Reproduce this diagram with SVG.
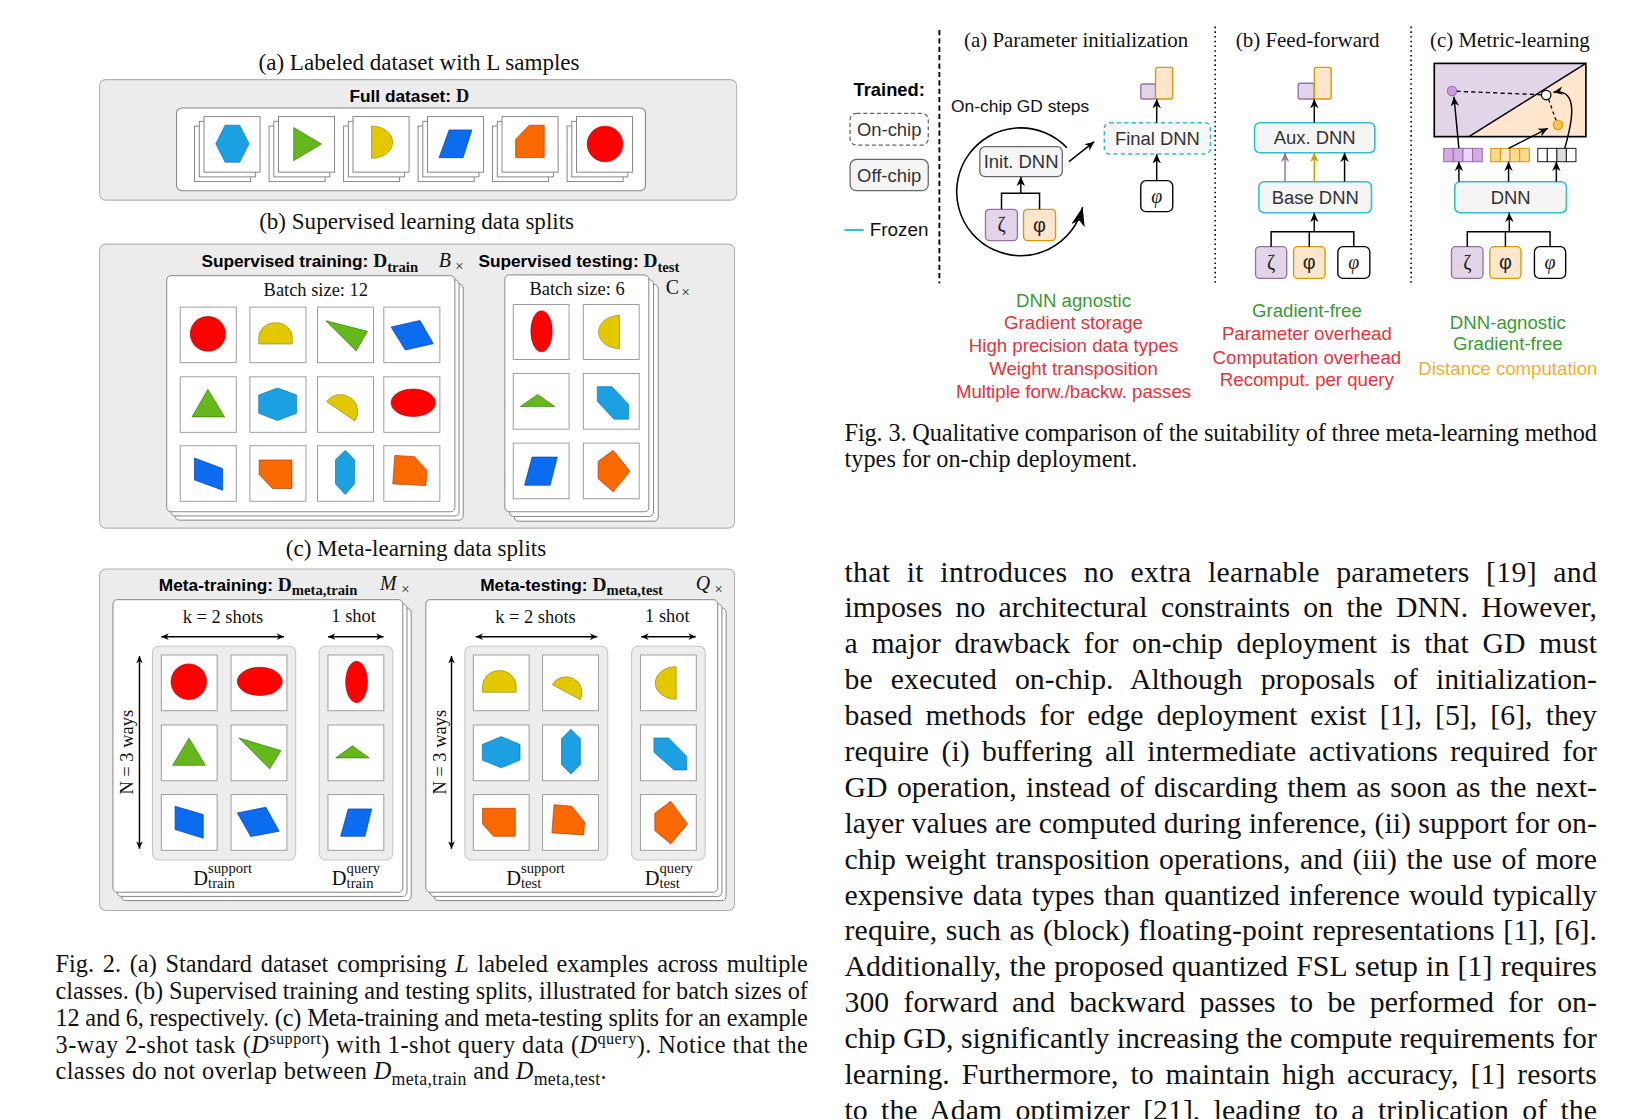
<svg xmlns="http://www.w3.org/2000/svg" width="1643" height="1119" viewBox="0 0 1643 1119">
<style>
.tt{font-family:"Liberation Serif","Times New Roman",serif;fill:#111}
.ss{font-family:"Liberation Sans",Arial,sans-serif}
.gb{fill:#ececec;stroke:#b3b3b3;stroke-width:1}
.wb{fill:#fff;stroke:#888;stroke-width:1}
.cd{fill:#fff;stroke:#808080;stroke-width:.9}
.cl{fill:#fff;stroke:#9a9a9a;stroke-width:.9}
.ib{fill:#ededed;stroke:#c6c6c6;stroke-width:1}
.r{fill:#ff0000;stroke:#a80000;stroke-width:.6}
.y{fill:#e3c800;stroke:#9a8200;stroke-width:.6}
.g{fill:#64b81c;stroke:#2d7600;stroke-width:.6}
.b{fill:#0a6df0;stroke:#0030b0;stroke-width:.6}
.c{fill:#1ba1e2;stroke:#006eaf;stroke-width:.6}
.o{fill:#fa6800;stroke:#b53000;stroke-width:.6}
.hd{font-size:16.5px;font-weight:bold}
.t22{font-size:22px}
.t176{font-size:17.6px}
.cap{font-size:23.2px}
.bd{font-size:28.4px}
.ln{fill:none;stroke:#000;stroke-width:1.4}
.gray{fill:#f5f5f5;stroke:#666;stroke-width:1.2}
.teal{fill:#f5f5f5;stroke:#2fbfc8;stroke-width:1.5}
.pur{fill:#e1d5e7;stroke:#9673a6;stroke-width:1.3}
.orn{fill:#ffe6cc;stroke:#d79b00;stroke-width:1.3}
.blk{fill:#fff;stroke:#000;stroke-width:1.3}
.lbl{font-size:17.6px;fill:#333;text-anchor:middle}
.gr{font-size:19px;fill:#222;text-anchor:middle}
.li{font-size:17.8px;text-anchor:middle}
.grn{fill:#3a9a35}.red{fill:#e5333a}.amb{fill:#f0b030}
</style>
<defs>
<marker id="a" viewBox="0 0 10 10" refX="10" refY="5" markerWidth="9" markerHeight="9" markerUnits="userSpaceOnUse" orient="auto"><path d="M0,0.5 L10,5 L0,9.5 L3,5 z" fill="#000"/></marker>
<marker id="ap" viewBox="0 0 10 10" refX="10" refY="5" markerWidth="9" markerHeight="9" markerUnits="userSpaceOnUse" orient="auto"><path d="M0,0.5 L10,5 L0,9.5 L3,5 z" fill="#9673a6"/></marker>
<marker id="ao" viewBox="0 0 10 10" refX="10" refY="5" markerWidth="9" markerHeight="9" markerUnits="userSpaceOnUse" orient="auto"><path d="M0,0.5 L10,5 L0,9.5 L3,5 z" fill="#d79b00"/></marker>
<marker id="d" viewBox="0 0 10 10" refX="10" refY="5" markerWidth="7" markerHeight="7" markerUnits="userSpaceOnUse" orient="auto-start-reverse"><path d="M0,0.5 L10,5 L0,9.5 L3,5 z" fill="#000"/></marker>
<marker id="big" viewBox="0 0 18 13" refX="18" refY="6.5" markerWidth="18" markerHeight="13" markerUnits="userSpaceOnUse" orient="auto"><path d="M0,0 L18,6.5 L0,13 L5,6.5 z" fill="#000"/></marker>
</defs>
<rect width="1643" height="1119" fill="#fff"/>
<g transform="scale(1.04783)">

<!-- ================= FIG 2 (a) ================= -->
<g id="fig2a">
<text class="tt t22" x="399.9" y="66.5" text-anchor="middle">(a) Labeled dataset with L samples</text>
<rect class="gb" x="95" y="76" width="608" height="115" rx="6"/>
<text class="ss hd" x="390.6" y="97.5" text-anchor="middle">Full dataset: <tspan class="tt" font-size="17.5">D</tspan></text>
<rect class="wb" x="168.5" y="103" width="447.5" height="79" rx="5"/>
<g id="a-card1"><rect class="cd" x="185.7" y="120.3" width="53.5" height="53"/><rect class="cd" x="190.2" y="115.8" width="53.5" height="53"/><rect class="cd" x="194.7" y="111.3" width="53.5" height="53"/>
<polygon class="c" points="205.9,137.2 214.8,119.5 228.8,119.5 237.7,137.2 228.8,154.8 214.8,154.8"/></g>
<g id="a-card2"><rect class="cd" x="256.8" y="120.3" width="53.5" height="53"/><rect class="cd" x="261.3" y="115.8" width="53.5" height="53"/><rect class="cd" x="265.8" y="111.3" width="53.5" height="53"/>
<polygon class="g" points="280.3,121.7 306.8,137.5 280.3,153.3"/></g>
<g id="a-card3"><rect class="cd" x="327.9" y="120.3" width="53.5" height="53"/><rect class="cd" x="332.4" y="115.8" width="53.5" height="53"/><rect class="cd" x="336.9" y="111.3" width="53.5" height="53"/>
<path class="y" d="M354.6,120.2 A20.1 15.45 0 0 1 354.6,151.1 Z"/></g>
<g id="a-card4"><rect class="cd" x="399" y="120.3" width="53.5" height="53"/><rect class="cd" x="403.5" y="115.8" width="53.5" height="53"/><rect class="cd" x="408" y="111.3" width="53.5" height="53"/>
<polygon class="b" points="428.6,124 450.3,124 441.9,150.5 419,150.5"/></g>
<g id="a-card5"><rect class="cd" x="470.1" y="120.3" width="53.5" height="53"/><rect class="cd" x="474.6" y="115.8" width="53.5" height="53"/><rect class="cd" x="479.1" y="111.3" width="53.5" height="53"/>
<polygon class="o" points="505,119.5 519.4,119.5 519.4,150.4 492.1,150.4 492.1,132.8"/></g>
<g id="a-card6"><rect class="cd" x="541.2" y="120.3" width="53.5" height="53"/><rect class="cd" x="545.7" y="115.8" width="53.5" height="53"/><rect class="cd" x="550.2" y="111.3" width="53.5" height="53"/>
<circle class="r" cx="577.4" cy="137.4" r="17"/></g>
</g>

<!-- ================= FIG 2 (b) ================= -->
<g id="fig2b">
<text class="tt t22" x="397.6" y="218.8" text-anchor="middle">(b) Supervised learning data splits</text>
<rect class="gb" x="95" y="233" width="606" height="271" rx="6"/>
<text class="ss hd" x="295.6" y="255.2" text-anchor="middle">Supervised training: <tspan class="tt" font-size="18.5">D</tspan><tspan class="tt" font-size="14" dy="4">train</tspan></text>
<text class="tt" x="418.8" y="255.2" font-size="19" font-style="italic">B</text><text class="tt" x="434.5" y="258.5" font-size="14">×</text>
<text class="ss hd" x="552.5" y="255.2" text-anchor="middle">Supervised testing: <tspan class="tt" font-size="18.5">D</tspan><tspan class="tt" font-size="14" dy="4">test</tspan></text>
<text class="tt" x="635.3" y="280.5" font-size="19">C</text><text class="tt" x="650.5" y="283.5" font-size="14">×</text>
<g id="b-train">
<rect class="cd" x="167.1" y="271.1" width="275" height="225.3" rx="4"/>
<rect class="cd" x="163.1" y="267.1" width="275" height="225.3" rx="4"/>
<rect class="cd" x="159.1" y="263.1" width="275" height="225.3" rx="4"/>
<text class="tt t176" x="301.4" y="282.7" text-anchor="middle">Batch size: 12</text>
<rect class="cl" x="172" y="293.1" width="53.5" height="53"/><rect class="cl" x="238.5" y="293.1" width="53.5" height="53"/><rect class="cl" x="303" y="293.1" width="53.5" height="53"/><rect class="cl" x="366.3" y="293.1" width="53.5" height="53"/>
<rect class="cl" x="172" y="359.6" width="53.5" height="53"/><rect class="cl" x="238.5" y="359.6" width="53.5" height="53"/><rect class="cl" x="303" y="359.6" width="53.5" height="53"/><rect class="cl" x="366.3" y="359.6" width="53.5" height="53"/>
<rect class="cl" x="172" y="425.4" width="53.5" height="53"/><rect class="cl" x="238.5" y="425.4" width="53.5" height="53"/><rect class="cl" x="303" y="425.4" width="53.5" height="53"/><rect class="cl" x="366.3" y="425.4" width="53.5" height="53"/>
<ellipse class="r" cx="198.4" cy="318.6" rx="16.8" ry="16.6"/>
<path class="y" d="M246.9,328.3 L246.9,322 A16.05 14 0 0 1 279,322 L279,328.3 Z"/>
<polygon class="g" points="311,306.1 350.7,316.2 339.9,334.9"/>
<polygon class="b" points="373.2,312.1 400.8,305.8 413.6,328 386.8,334"/>
<polygon class="g" points="198.4,371.6 214.4,397.9 183.2,397.9"/>
<polygon class="c" points="246.9,377 264.9,370.3 283,377 283,394.4 264.9,401.4 246.9,394.4"/>
<path class="y" d="M311.8,383.3 A16.3 16.3 0 0 1 338.7,401.7 Z"/>
<ellipse class="r" cx="394.4" cy="384.4" rx="21.2" ry="13.1"/>
<polygon class="b" points="185.6,437.1 212.4,447.2 212.4,467.8 185.6,458"/>
<polygon class="o" points="247.3,439 278.6,439 278.6,466.2 260.1,466.2 247.3,452.9"/>
<polygon class="c" points="329.5,429.8 338.3,438.7 338.3,461.8 329.5,471.9 320.2,461.8 320.2,438.7"/>
<polygon class="o" points="376.8,434.6 395.6,435.8 407.6,449.1 406.4,463.4 374.8,461.8"/>
</g>
<g id="b-test">
<rect class="cd" x="490.8" y="271.4" width="137.4" height="226" rx="4"/>
<rect class="cd" x="486.3" y="266.9" width="137.4" height="226" rx="4"/>
<rect class="cd" x="481.8" y="262.4" width="137.4" height="226" rx="4"/>
<text class="tt t176" x="550.7" y="281.4" text-anchor="middle">Batch size: 6</text>
<rect class="cl" x="489.8" y="290.6" width="53.3" height="52.5"/><rect class="cl" x="556.7" y="290.6" width="53.3" height="52.5"/>
<rect class="cl" x="489.8" y="356.4" width="53.3" height="53.2"/><rect class="cl" x="556.7" y="356.4" width="53.3" height="53.2"/>
<rect class="cl" x="489.8" y="422.9" width="53.3" height="53.1"/><rect class="cl" x="556.7" y="422.9" width="53.3" height="53.1"/>
<ellipse class="r" cx="516.8" cy="316.2" rx="10.2" ry="19.6"/>
<path class="y" d="M591.2,301 A20 15.85 0 0 0 591.2,332.7 Z"/>
<polygon class="g" points="496.6,388 513,376.4 529.5,388"/>
<polygon class="c" points="570,369 584,369 600,386 600,400 586,400 570,383"/>
<polygon class="b" points="507.8,436.2 531.9,436.2 525,463.1 500.6,463.1"/>
<polygon class="o" points="585.2,429.8 601.2,449.8 585.2,469.4 570.8,456.8 570.8,440.3"/>
</g>
</g>

<!-- ================= FIG 2 (c) ================= -->
<g id="fig2c">
<text class="tt t22" x="397" y="530.5" text-anchor="middle">(c) Meta-learning data splits</text>
<rect class="gb" x="95" y="543" width="606" height="326" rx="6"/>
<text class="ss hd" x="246.3" y="563.7" text-anchor="middle">Meta-training: <tspan class="tt" font-size="18.5">D</tspan><tspan class="tt" font-size="14" dy="4">meta,train</tspan></text>
<text class="tt" x="362.7" y="563" font-size="19" font-style="italic">M</text><text class="tt" x="383" y="566.5" font-size="14">×</text>
<text class="ss hd" x="545.5" y="563.7" text-anchor="middle">Meta-testing: <tspan class="tt" font-size="18.5">D</tspan><tspan class="tt" font-size="14" dy="4">meta,test</tspan></text>
<text class="tt" x="664.1" y="563" font-size="19" font-style="italic">Q</text><text class="tt" x="682" y="566.5" font-size="14">×</text>

<g id="c-train">
<rect class="cd" x="115.8" y="580.3" width="276.6" height="279.2" rx="4"/>
<rect class="cd" x="111.8" y="576.3" width="276.6" height="279.2" rx="4"/>
<rect class="cd" x="107.8" y="572.3" width="276.6" height="279.2" rx="4"/>
<text class="tt t176" x="212.8" y="594.8" text-anchor="middle">k = 2 shots</text>
<text class="tt t176" x="337.5" y="594" text-anchor="middle">1 shot</text>
<line class="ln" x1="154" y1="607.6" x2="271" y2="607.6" marker-start="url(#d)" marker-end="url(#d)"/>
<line class="ln" x1="313" y1="607.6" x2="366" y2="607.6" marker-start="url(#d)" marker-end="url(#d)"/>
<line class="ln" x1="133.1" y1="626" x2="133.1" y2="810" marker-start="url(#d)" marker-end="url(#d)"/>
<text class="tt t176" transform="translate(127,717.9) rotate(-90)" text-anchor="middle">N = 3 ways</text>
<rect class="ib" x="145.5" y="616.8" width="136.7" height="203.9" rx="6"/>
<rect class="ib" x="304.6" y="616.8" width="70.2" height="203.9" rx="6"/>
<rect class="cl" x="153.9" y="625.1" width="53.3" height="53.2"/><rect class="cl" x="220.5" y="625.1" width="53.3" height="53.2"/><rect class="cl" x="313" y="625.1" width="53.3" height="53.2"/>
<rect class="cl" x="153.9" y="691.9" width="53.3" height="53.2"/><rect class="cl" x="220.5" y="691.9" width="53.3" height="53.2"/><rect class="cl" x="313" y="691.9" width="53.3" height="53.2"/>
<rect class="cl" x="153.9" y="758.3" width="53.3" height="53.2"/><rect class="cl" x="220.5" y="758.3" width="53.3" height="53.2"/><rect class="cl" x="313" y="758.3" width="53.3" height="53.2"/>
<circle class="r" cx="180.2" cy="650.6" r="17"/>
<ellipse class="r" cx="247.9" cy="650.3" rx="21.4" ry="13.5"/>
<ellipse class="r" cx="340.3" cy="650.8" rx="10.4" ry="19.7"/>
<polygon class="g" points="180.4,704.3 196,730.4 164.7,730.4"/>
<polygon class="g" points="228.1,704.3 268.1,716.3 257.3,733.8"/>
<polygon class="g" points="320.3,723.3 336.3,711.6 352.3,723.3"/>
<polygon class="b" points="167.1,769.5 194,777.4 194,800 167.1,791.7"/>
<polygon class="b" points="226.5,775.8 253.7,770.4 266.5,793.3 239.3,798.4"/>
<polygon class="b" points="332.3,772 354.7,772 348.3,798.1 325.1,798.1"/>
<text class="tt" font-size="19.5" x="184.5" y="845">D<tspan font-size="14" dy="-12">support</tspan><tspan font-size="14" x="198.6" dy="14">train</tspan></text>
<text class="tt" font-size="19.5" x="316.7" y="845">D<tspan font-size="14" dy="-12">query</tspan><tspan font-size="14" x="330.8" dy="14">train</tspan></text>
</g>

<g id="c-test">
<rect class="cd" x="414.4" y="580.3" width="278.6" height="279.2" rx="4"/>
<rect class="cd" x="410.4" y="576.3" width="278.6" height="279.2" rx="4"/>
<rect class="cd" x="406.4" y="572.3" width="278.6" height="279.2" rx="4"/>
<text class="tt t176" x="511" y="594.8" text-anchor="middle">k = 2 shots</text>
<text class="tt t176" x="636.9" y="594" text-anchor="middle">1 shot</text>
<line class="ln" x1="454" y1="607.6" x2="570" y2="607.6" marker-start="url(#d)" marker-end="url(#d)"/>
<line class="ln" x1="612" y1="607.6" x2="664" y2="607.6" marker-start="url(#d)" marker-end="url(#d)"/>
<line class="ln" x1="430.9" y1="626" x2="430.9" y2="810" marker-start="url(#d)" marker-end="url(#d)"/>
<text class="tt t176" transform="translate(425.5,717.9) rotate(-90)" text-anchor="middle">N = 3 ways</text>
<rect class="ib" x="443.7" y="616.8" width="136.3" height="203.9" rx="6"/>
<rect class="ib" x="602.8" y="616.8" width="70.2" height="203.9" rx="6"/>
<rect class="cl" x="451.7" y="625.1" width="53.3" height="53.2"/><rect class="cl" x="517.8" y="625.1" width="53.3" height="53.2"/><rect class="cl" x="611.2" y="625.1" width="53.3" height="53.2"/>
<rect class="cl" x="451.7" y="691.9" width="53.3" height="53.2"/><rect class="cl" x="517.8" y="691.9" width="53.3" height="53.2"/><rect class="cl" x="611.2" y="691.9" width="53.3" height="53.2"/>
<rect class="cl" x="451.7" y="758.3" width="53.3" height="53.2"/><rect class="cl" x="517.8" y="758.3" width="53.3" height="53.2"/><rect class="cl" x="611.2" y="758.3" width="53.3" height="53.2"/>
<path class="y" d="M460.5,660.7 L460.5,654.7 A16.05 14.7 0 0 1 492.6,654.7 L492.6,660.7 Z"/>
<path class="y" d="M527.1,653.4 A15.2 15.2 0 0 1 553.9,667.7 Z"/>
<path class="y" d="M645.3,636.2 A20 15.6 0 0 0 645.3,667.4 Z"/>
<polygon class="c" points="460.3,710.4 478.3,703 496.3,710.4 496.3,725.4 478.3,732.8 460.3,725.4"/>
<polygon class="c" points="544.9,696 553.9,705 553.9,729.6 544.9,738.6 535.9,729.6 535.9,705"/>
<polygon class="c" points="624.1,704.3 638.1,704.3 655.3,721.8 655.3,734.8 643.3,734.8 624.1,717.9"/>
<polygon class="o" points="460.5,771.4 491.8,771.4 491.8,798.1 470.9,798.1 460.5,786.3"/>
<polygon class="o" points="528.7,767.9 545.9,769.5 557.9,784.7 557.1,796.8 526.7,794.9"/>
<polygon class="o" points="640.1,764.7 656.1,786.3 640.1,805.4 624.9,792.7 624.9,776.1"/>
<text class="tt" font-size="19.5" x="483.1" y="845">D<tspan font-size="14" dy="-12">support</tspan><tspan font-size="14" x="497.2" dy="14">test</tspan></text>
<text class="tt" font-size="19.5" x="615.3" y="845">D<tspan font-size="14" dy="-12">query</tspan><tspan font-size="14" x="629.4" dy="14">test</tspan></text>
</g>
</g>

<!-- ================= FIG 2 caption ================= -->
<g id="fig2-caption" class="tt cap">
<text x="53" y="928" textLength="718" lengthAdjust="spacing" word-spacing="2.5">Fig. 2. (a) Standard dataset comprising <tspan font-style="italic">L</tspan> labeled examples across multiple</text>
<text x="53" y="953.5" textLength="718" lengthAdjust="spacing">classes. (b) Supervised training and testing splits, illustrated for batch sizes of</text>
<text x="53" y="979" textLength="718" lengthAdjust="spacing">12 and 6, respectively. (c) Meta-training and meta-testing splits for an example</text>
<text x="53" y="1004.5" textLength="718" lengthAdjust="spacing">3-way 2-shot task (<tspan font-style="italic">D</tspan><tspan font-size="15.5" dy="-8">support</tspan><tspan dy="8">) with 1-shot query data (</tspan><tspan font-style="italic">D</tspan><tspan font-size="15.5" dy="-8">query</tspan><tspan dy="8">). Notice that the</tspan></text>
<text x="53" y="1030" textLength="526" lengthAdjust="spacing">classes do not overlap between <tspan font-style="italic">D</tspan><tspan font-size="17" dy="5">meta,train</tspan><tspan dy="-5"> and </tspan><tspan font-style="italic">D</tspan><tspan font-size="17" dy="5">meta,test</tspan><tspan dy="-5">.</tspan></text>
</g>

<!-- ================= FIG 3 ================= -->
<g id="fig3-separators">
<line x1="896.5" y1="28.6" x2="896.5" y2="270.4" stroke="#000" stroke-width="1.8" stroke-dasharray="5 3"/>
<line x1="1159.7" y1="25.4" x2="1159.7" y2="270.4" stroke="#000" stroke-width="1.5" stroke-dasharray="1.5 3"/>
<line x1="1346.7" y1="25.4" x2="1346.7" y2="270.4" stroke="#000" stroke-width="1.5" stroke-dasharray="1.5 3"/>
</g>

<g id="legend">
<text class="ss" x="814.6" y="91.6" font-size="17.5" font-weight="bold">Trained:</text>
<g id="legend-onchip"><rect x="811.3" y="108.2" width="74.6" height="30.2" rx="6" fill="#fff" stroke="#666" stroke-width="1.2" stroke-dasharray="4 2.5"/>
<text class="ss lbl" x="848.6" y="129.6">On-chip</text></g>
<g id="legend-offchip"><rect class="gray" x="811.3" y="152.1" width="74.6" height="29.9" rx="6"/>
<text class="ss lbl" x="848.6" y="173.4">Off-chip</text></g>
<g id="legend-frozen"><line x1="806" y1="219.5" x2="824.2" y2="219.5" stroke="#2fbfc8" stroke-width="2"/>
<text class="ss" x="830" y="225.6" font-size="18" fill="#111">Frozen</text></g>
</g>

<g id="fig3a">
<text class="tt" x="1027" y="44.5" font-size="20" text-anchor="middle">(a) Parameter initialization</text>
<text class="ss" x="907.7" y="106.6" font-size="16.6" fill="#111">On-chip GD steps</text>
<g id="a-init"><rect class="gray" x="935.1" y="140" width="78.7" height="28.6" rx="5"/><text class="ss lbl" x="974.5" y="160.6">Init. DNN</text></g>
<g id="a-zeta"><rect class="pur" x="940.5" y="199.8" width="30.5" height="29.9" rx="4"/><text class="tt gr" x="955.8" y="220.5">ζ</text></g>
<g id="a-phi"><rect class="orn" x="976.8" y="199.8" width="30.6" height="29.9" rx="4"/><text class="ss gr" x="992.1" y="221">φ</text></g>
<g id="a-final"><rect x="1054" y="117.1" width="101.2" height="29.9" rx="5" fill="#f7f7f7" stroke="#2fbfc8" stroke-width="1.5" stroke-dasharray="4 3"/><text class="ss lbl" x="1104.6" y="138.6">Final DNN</text></g>
<g id="a-query"><rect class="blk" x="1088.7" y="172.4" width="30.5" height="29.6" rx="5"/><text class="tt gr" x="1103.9" y="193.5" font-style="italic">φ</text></g>
<g id="a-out"><rect class="pur" x="1088.7" y="80.2" width="14.1" height="14.3" rx="2"/><rect class="orn" x="1102.8" y="64.3" width="16.4" height="30.2" rx="2"/></g>
</g>

<g id="fig3b">
<text class="tt" x="1247.9" y="44.5" font-size="20" text-anchor="middle">(b) Feed-forward</text>
<g id="b-out"><rect class="pur" x="1238.9" y="79.5" width="15.4" height="15" rx="2"/><rect class="orn" x="1254.3" y="64.3" width="16.1" height="30.2" rx="2"/></g>
<g id="b-aux"><rect class="teal" x="1197.3" y="117.1" width="114.8" height="28.6" rx="5"/><text class="ss lbl" x="1254.7" y="137.8">Aux. DNN</text></g>
<g id="b-base"><rect class="teal" x="1201.4" y="173.4" width="107.5" height="29.6" rx="5"/><text class="ss lbl" x="1255.2" y="194.6">Base DNN</text></g>
<g id="b-zeta"><rect class="pur" x="1198.2" y="235.4" width="29.8" height="30.3" rx="4"/><text class="tt gr" x="1213.1" y="256.3">ζ</text></g>
<g id="b-phi"><rect class="orn" x="1234.5" y="235.4" width="30.1" height="30.3" rx="4"/><text class="ss gr" x="1249.5" y="256.8">φ</text></g>
<g id="b-query"><rect class="blk" x="1276.8" y="235.4" width="30.5" height="30.3" rx="5"/><text class="tt gr" x="1292" y="256.8" font-style="italic">φ</text></g>
</g>

<g id="fig3c">
<text class="tt" x="1441" y="44.5" font-size="20" text-anchor="middle">(c) Metric-learning</text>
<g id="c-plot">
<polygon points="1368.8,60.5 1513.5,60.5 1401.9,130.4 1368.8,130.4" fill="#e1d5e7"/>
<polygon points="1513.5,60.5 1513.5,130.4 1401.9,130.4" fill="#ffe6cc"/>
<line x1="1401.9" y1="130.4" x2="1513.5" y2="60.5" stroke="#000" stroke-width="1.4"/>
<rect x="1368.8" y="60.5" width="144.7" height="69.9" fill="none" stroke="#000" stroke-width="1.6"/>
<line x1="1390" y1="87.1" x2="1471" y2="90.4" stroke="#000" stroke-width="1.3" stroke-dasharray="4 3"/>
<line x1="1478" y1="95" x2="1485" y2="114.8" stroke="#000" stroke-width="1.3" stroke-dasharray="3 3"/>
<circle cx="1385.8" cy="86.9" r="4.5" fill="#cc99e6" stroke="#9673a6" stroke-width="1"/>
<circle cx="1475.6" cy="90.7" r="4.5" fill="#fff" stroke="#000" stroke-width="1.2"/>
<circle cx="1486.9" cy="119.3" r="4.5" fill="#ffc04d" stroke="#d79b00" stroke-width="1"/>
</g>
<g id="c-emb-p"><rect x="1377.8" y="141.6" width="9.2" height="12.7" fill="#d4a9e6" stroke="#9673a6"/><rect x="1387" y="141.6" width="9.2" height="12.7" fill="#d4a9e6" stroke="#9673a6"/><rect x="1396.2" y="141.6" width="9.2" height="12.7" fill="#f2d2ff" stroke="#9673a6"/><rect x="1405.4" y="141.6" width="9.2" height="12.7" fill="#d4a9e6" stroke="#9673a6"/></g>
<g id="c-emb-o"><rect x="1422.7" y="141.6" width="9.2" height="12.7" fill="#ffd98f" stroke="#d79b00"/><rect x="1431.9" y="141.6" width="9.2" height="12.7" fill="#ffe6cc" stroke="#d79b00"/><rect x="1441.1" y="141.6" width="9.2" height="12.7" fill="#ffd98f" stroke="#d79b00"/><rect x="1450.3" y="141.6" width="9.2" height="12.7" fill="#ffd98f" stroke="#d79b00"/></g>
<g id="c-emb-q"><rect x="1467.6" y="141.6" width="9.1" height="12.7" fill="#fff" stroke="#222"/><rect x="1476.7" y="141.6" width="9.1" height="12.7" fill="#fff" stroke="#222"/><rect x="1485.8" y="141.6" width="9.1" height="12.7" fill="#ddd" stroke="#222"/><rect x="1494.9" y="141.6" width="9.1" height="12.7" fill="#fff" stroke="#222"/></g>
<g id="c-dnn"><rect class="teal" x="1388.4" y="173.4" width="106.5" height="29.6" rx="5"/><text class="ss lbl" x="1441.7" y="194.6">DNN</text></g>
<g id="c-zeta"><rect class="pur" x="1385.2" y="235.4" width="30.1" height="30.3" rx="4"/><text class="tt gr" x="1400.3" y="256.3">ζ</text></g>
<g id="c-phi"><rect class="orn" x="1421.8" y="235.4" width="29.8" height="30.3" rx="4"/><text class="ss gr" x="1436.7" y="256.8">φ</text></g>
<g id="c-query"><rect class="blk" x="1464.4" y="235.4" width="29.8" height="30.3" rx="5"/><text class="tt gr" x="1479.3" y="256.8" font-style="italic">φ</text></g>
</g>

<!-- ================= FIG 3 connectors ================= -->
<g id="connectors" fill="none" stroke="#000" stroke-width="1.4">
<path d="M1018.2,141 A61 61 0 1 0 1033.2,197.8" stroke-width="1.5" marker-end="url(#big)"/>
<path d="M955.8,199.8 V184.5 H992.1 V199.8"/>
<line x1="974.2" y1="184.5" x2="974.2" y2="168.6" marker-end="url(#a)"/>
<line x1="1020.2" y1="154.3" x2="1044.3" y2="135.2" marker-end="url(#a)"/>
<line x1="1103.9" y1="172.4" x2="1103.9" y2="147" marker-end="url(#a)"/>
<line x1="1103.9" y1="117.1" x2="1103.9" y2="94.5" marker-end="url(#a)"/>
<line x1="1254.3" y1="117.1" x2="1254.3" y2="94.5" marker-end="url(#a)"/>
<line x1="1226.4" y1="173.4" x2="1226.4" y2="145.7" stroke="#9673a6" marker-end="url(#ap)"/>
<line x1="1254.3" y1="173.4" x2="1254.3" y2="145.7" stroke="#d79b00" marker-end="url(#ao)"/>
<line x1="1283.2" y1="173.4" x2="1283.2" y2="145.7" marker-end="url(#a)"/>
<path d="M1213.1,235.4 V221.1 H1292 V235.4 M1249.5,235.4 V221.1"/>
<line x1="1254.3" y1="221.1" x2="1254.3" y2="203" marker-end="url(#a)"/>
<path d="M1400.3,235.4 V221.1 H1479.3 V235.4 M1436.7,235.4 V221.1"/>
<line x1="1440.4" y1="221.1" x2="1440.4" y2="203" marker-end="url(#a)"/>
<line x1="1392.3" y1="173.4" x2="1392.3" y2="154.3" marker-end="url(#a)"/>
<line x1="1439.7" y1="173.4" x2="1439.7" y2="154.3" marker-end="url(#a)"/>
<line x1="1485.3" y1="173.4" x2="1485.3" y2="154.3" marker-end="url(#a)"/>
<line x1="1392.3" y1="141.6" x2="1387.6" y2="92.3" marker-end="url(#a)"/>
<line x1="1439.7" y1="141.6" x2="1477.2" y2="122.5" marker-end="url(#a)"/>
<path d="M1493.3,141.6 C1500,118 1508,84 1482.5,88" marker-end="url(#a)"/>
</g>

<g id="fig3-lists" class="ss li">
<text class="grn" x="1024.5" y="293.4">DNN agnostic</text>
<text class="red" x="1024.5" y="314.3">Gradient storage</text>
<text class="red" x="1024.5" y="335.8">High precision data types</text>
<text class="red" x="1024.5" y="357.6">Weight transposition</text>
<text class="red" x="1024.5" y="379.4">Multiple forw./backw. passes</text>
<text class="grn" x="1247.2" y="303">Gradient-free</text>
<text class="red" x="1247.2" y="324.4">Parameter overhead</text>
<text class="red" x="1247.2" y="347.3">Computation overhead</text>
<text class="red" x="1247.2" y="368.2">Recomput. per query</text>
<text class="grn" x="1439" y="313.6">DNN-agnostic</text>
<text class="grn" x="1439" y="334.5">Gradient-free</text>
<text class="amb" x="1439" y="357.6">Distance computation</text>
</g>

<g id="fig3-caption" class="tt cap">
<text x="806" y="421" textLength="718" lengthAdjust="spacing">Fig. 3. Qualitative comparison of the suitability of three meta-learning method</text>
<text x="806" y="446">types for on-chip deployment.</text>
</g>

<!-- ================= Body text ================= -->
<g id="body-text" class="tt bd">
<text x="806" y="555" word-spacing="8.3" textLength="718" lengthAdjust="spacing">that it introduces no extra learnable parameters [19] and</text>
<text x="806" y="589.25" word-spacing="5.5" textLength="718" lengthAdjust="spacing">imposes no architectural constraints on the DNN. However,</text>
<text x="806" y="623.5" word-spacing="5.9" textLength="718" lengthAdjust="spacing">a major drawback for on-chip deployment is that GD must</text>
<text x="806" y="657.75" word-spacing="10.1" textLength="718" lengthAdjust="spacing">be executed on-chip. Although proposals of initialization-</text>
<text x="806" y="692" word-spacing="5.4" textLength="718" lengthAdjust="spacing">based methods for edge deployment exist [1], [5], [6], they</text>
<text x="806" y="726.25" word-spacing="4.8" textLength="718" lengthAdjust="spacing">require (i) buffering all intermediate activations required for</text>
<text x="806" y="760.5" word-spacing="1.8" textLength="718" lengthAdjust="spacing">GD operation, instead of discarding them as soon as the next-</text>
<text x="806" y="794.75" textLength="718" lengthAdjust="spacing">layer values are computed during inference, (ii) support for on-</text>
<text x="806" y="829" word-spacing="1.9" textLength="718" lengthAdjust="spacing">chip weight transposition operations, and (iii) the use of more</text>
<text x="806" y="863.25" word-spacing="1.7" textLength="718" lengthAdjust="spacing">expensive data types than quantized inference would typically</text>
<text x="806" y="897.5" word-spacing="0.9" textLength="718" lengthAdjust="spacing">require, such as (block) floating-point representations [1], [6].</text>
<text x="806" y="931.75" word-spacing="0.7" textLength="718" lengthAdjust="spacing">Additionally, the proposed quantized FSL setup in [1] requires</text>
<text x="806" y="966" word-spacing="6.6" textLength="718" lengthAdjust="spacing">300 forward and backward passes to be performed for on-</text>
<text x="806" y="1000.25" textLength="718" lengthAdjust="spacing">chip GD, significantly increasing the compute requirements for</text>
<text x="806" y="1034.5" word-spacing="4.3" textLength="718" lengthAdjust="spacing">learning. Furthermore, to maintain high accuracy, [1] resorts</text>
<text x="806" y="1068.75" word-spacing="5.6" textLength="718" lengthAdjust="spacing">to the Adam optimizer [21], leading to a triplication of the</text>
</g>
</g>
</svg>
